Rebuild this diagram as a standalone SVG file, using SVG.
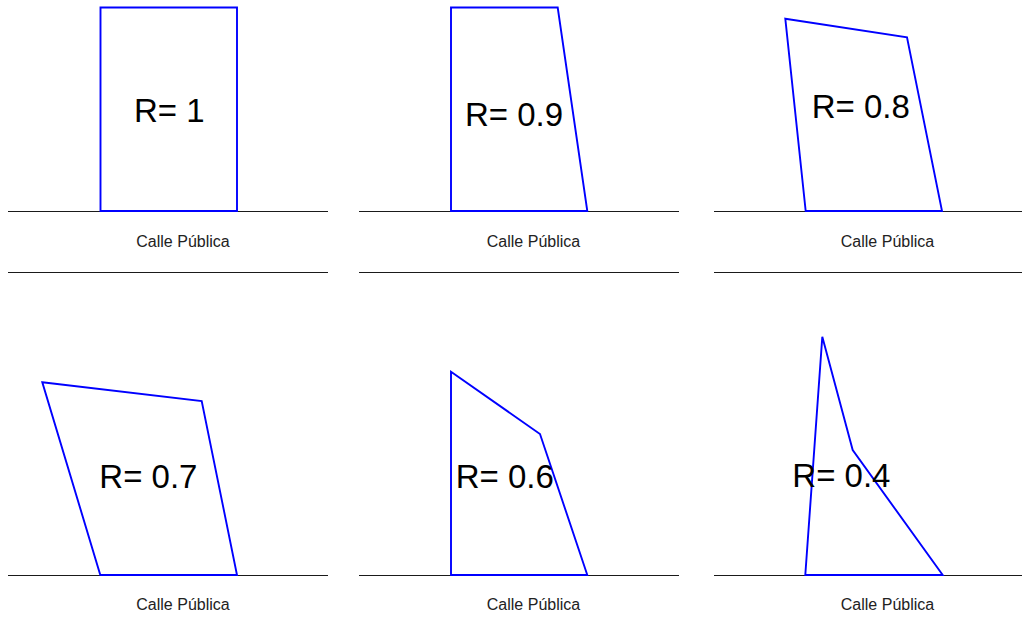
<svg xmlns="http://www.w3.org/2000/svg" width="1022" height="634" viewBox="0 0 1022 634">
<style>
.street{stroke:#1a1a1a;stroke-width:1;fill:none}
.lot{stroke:#0000ff;stroke-width:1.9;fill:none;stroke-linejoin:miter}
.r{font-family:"Liberation Sans",Arial,sans-serif;font-size:33px;fill:#000}
.c{font-family:"Liberation Sans",Arial,sans-serif;font-size:16px;fill:#222;text-anchor:middle}
</style>
<rect width="1022" height="634" fill="#fff"/>
<g id="connectors">
<line class="street" x1="8" y1="211.5" x2="328" y2="211.5"/>
<line class="street" x1="8" y1="272.5" x2="328" y2="272.5"/>
<line class="street" x1="359" y1="211.5" x2="679" y2="211.5"/>
<line class="street" x1="359" y1="272.5" x2="679" y2="272.5"/>
<line class="street" x1="714" y1="211.5" x2="1022" y2="211.5"/>
<line class="street" x1="714" y1="272.5" x2="1022" y2="272.5"/>
<line class="street" x1="8" y1="575.5" x2="328" y2="575.5"/>
<line class="street" x1="359" y1="575.5" x2="679" y2="575.5"/>
<line class="street" x1="714" y1="575.5" x2="1022" y2="575.5"/>
</g>
<g id="panel1">
<polygon class="lot" points="100.5,7.5 237,7.5 237,211 100.5,211"/>
<text class="r" x="134" y="121.7">R= 1</text>
<text class="c" x="183" y="246.5">Calle Pública</text>
</g>
<g id="panel2">
<polygon class="lot" points="451,7.5 557.7,7.5 587.3,211 451,211"/>
<text class="r" x="465" y="125.7">R= 0.9</text>
<text class="c" x="533.5" y="246.5">Calle Pública</text>
</g>
<g id="panel3">
<polygon class="lot" points="785.3,18.7 907,37.3 942,211 805.7,211"/>
<text class="r" x="811.7" y="118.3">R= 0.8</text>
<text class="c" x="887.5" y="246.5">Calle Pública</text>
</g>
<g id="panel4">
<polygon class="lot" points="42.3,382.3 201.7,401 237,575 100.3,575"/>
<text class="r" x="99.3" y="487.7">R= 0.7</text>
<text class="c" x="183" y="610">Calle Pública</text>
</g>
<g id="panel5">
<polygon class="lot" points="451,371.7 540,434 587.3,575 451,575"/>
<text class="r" x="455.7" y="487.7">R= 0.6</text>
<text class="c" x="533.5" y="610">Calle Pública</text>
</g>
<g id="panel6">
<polygon class="lot" points="822.3,336.7 852.7,450 942.7,575 805.3,575"/>
<text class="r" x="792.3" y="486.7">R= 0.4</text>
<text class="c" x="887.5" y="610">Calle Pública</text>
</g>
</svg>
